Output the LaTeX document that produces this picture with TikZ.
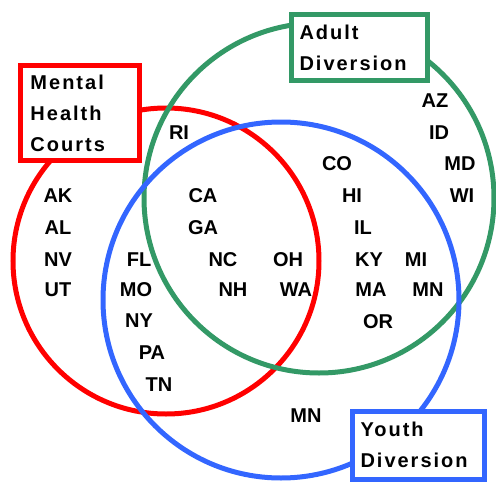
\documentclass[tikz,border=0pt]{standalone}
\usepackage{fontspec}
\setmainfont{Liberation Sans}
\newfontfamily\boxfont{Liberation Sans}[LetterSpace=10]
\usepackage{tikz}
\colorlet{mhcred}{red}
\definecolor{adultgreen}{RGB}{51,153,102}
\definecolor{youthblue}{RGB}{51,102,255}

\begin{document}
\begin{tikzpicture}[x=1pt,y=-1pt,
		state/.style={font=\fontsize{20}{31}\selectfont\bfseries, inner sep=0pt},
		setbox/.style={draw=#1, line width=5pt, fill=white, text=black, align=left,
			font=\boxfont\fontsize{20}{31}\selectfont\bfseries, inner ysep=0pt}]
		\useasboundingbox (0,0) rectangle (496,482);
		% the three sets
		\draw[mhcred, line width=5pt] (166,261) circle [radius=153pt];
		\draw[adultgreen, line width=5pt] (319,198) circle [radius=175pt];
		\draw[youthblue, line width=5pt] (281,300) circle [radius=178pt];
		% labels of the sets
		\node[setbox=mhcred, minimum width=119pt, minimum height=95pt, inner xsep=10pt, text width=99pt] (mhc) at (80,113) {Mental\\Health\\Courts};
		\node[setbox=adultgreen, minimum width=136pt, minimum height=66pt, inner xsep=8pt, text width=120pt] (adult) at (359.5,47.5) {Adult\\Diversion};
		\node[setbox=youthblue, minimum width=132pt, minimum height=68pt, inner xsep=8pt, text width=116pt] (youth) at (418.5,445) {Youth\\Diversion};
		% mental health courts only
		\node[state] (ak) at (58,196) {AK};
		\node[state] (al) at (58,228) {AL};
		\node[state] (nv) at (58,260) {NV};
		\node[state] (ut) at (58,290) {UT};
		% mental health courts and adult diversion
		\node[state] (ri) at (179,133) {RI};
		\node[state] (ca) at (203,196) {CA};
		\node[state] (ga) at (203,228) {GA};
		% mental health courts and youth diversion
		\node[state] (fl) at (139,260) {FL};
		\node[state] (mo) at (136,290) {MO};
		\node[state] (ny) at (139,321) {NY};
		\node[state] (pa) at (152,353) {PA};
		\node[state] (tn) at (159,385) {TN};
		% all three
		\node[state] (nc) at (223,260) {NC};
		\node[state] (nh) at (233,290) {NH};
		\node[state] (oh) at (288,260) {OH};
		\node[state] (wa) at (296,290) {WA};
		% adult and youth diversion
		\node[state] (co) at (337,164) {CO};
		\node[state] (hi) at (352,196) {HI};
		\node[state] (il) at (363,228) {IL};
		\node[state] (ky) at (369,260) {KY};
		\node[state] (mi) at (416,260) {MI};
		\node[state] (ma) at (371,290) {MA};
		\node[state] (mn) at (428,290) {MN};
		\node[state] (or) at (378,322) {OR};
		% adult diversion only
		\node[state] (az) at (435,101) {AZ};
		\node[state] (id) at (439,133) {ID};
		\node[state] (md) at (460,164) {MD};
		\node[state] (wi) at (462,196) {WI};
		% youth diversion only
		\node[state] (mnyouth) at (306,416) {MN};
\end{tikzpicture}
\end{document}
